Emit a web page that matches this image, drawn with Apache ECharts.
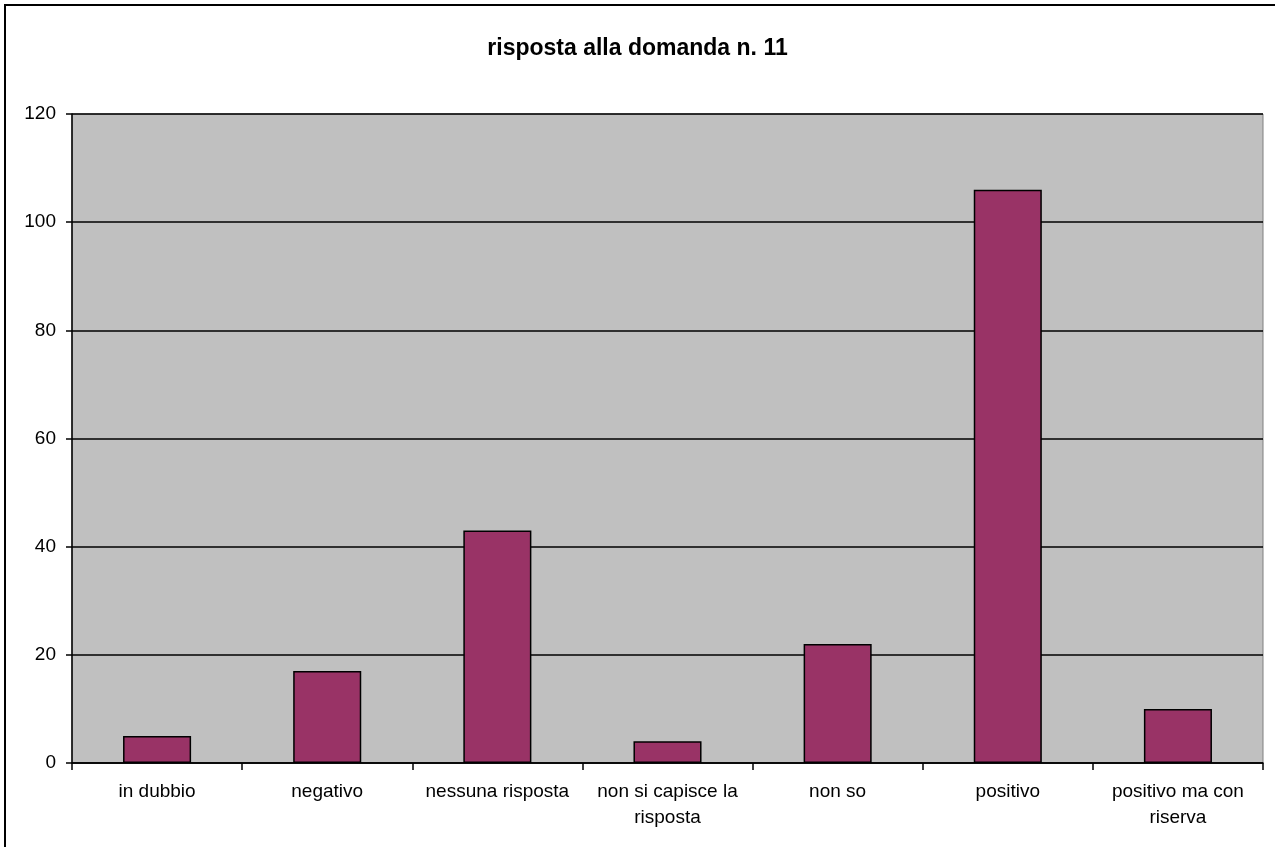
<!DOCTYPE html>
<html><head><meta charset="utf-8">
<script src="https://cdn.jsdelivr.net/npm/echarts@6/dist/echarts.min.js"></script>
<style>html,body{margin:0;padding:0;background:#fff}#c{width:1275px;height:847px}</style>
</head><body><div id="c"></div>
<script>
const categories = ['in dubbio','negativo','nessuna risposta','non si capisce la\nrisposta','non so','positivo','positivo ma con\nriserva'];
const values = [5,17,43,4,22,106,10];
const yTicks = [0,20,40,60,80,100,120];

const chart = echarts.init(document.getElementById('c'));
chart.setOption({
  animation:false,
  backgroundColor:'#fff',
  graphic:[{type:'rect',shape:{x:5,y:5,width:1300,height:900},style:{fill:'none',stroke:'#000',lineWidth:2},z:100}],
  title:{text:'risposta alla domanda n. 11',left:'center',top:32,textStyle:{fontFamily:'Liberation Sans, Arial',fontSize:23,fontWeight:'bold',color:'#000'}},
  grid:{left:72,right:12,top:114,bottom:84,show:true,backgroundColor:'#c0c0c0',borderColor:'#808080',borderWidth:1},
  xAxis:{type:'category',data:categories,
    axisLine:{lineStyle:{color:'#000',width:1.5}},
    axisTick:{show:true,length:7,alignWithLabel:false,lineStyle:{color:'#000',width:1.5}},
    axisLabel:{interval:0,color:'#000',fontFamily:'Liberation Sans, Arial',fontSize:19,lineHeight:26,margin:16}},
  yAxis:{type:'value',min:0,max:120,interval:20,
    axisLine:{show:true,lineStyle:{color:'#000',width:1.5}},
    axisTick:{show:true,length:6,lineStyle:{color:'#000',width:1.5}},
    splitLine:{show:true,lineStyle:{color:'#000',width:1.5}},
    axisLabel:{color:'#000',fontFamily:'Liberation Sans, Arial',fontSize:19,margin:16,
      formatter:v=>yTicks.includes(v)?String(v):''}},
  series:[{type:'bar',data:values,barCategoryGap:'60%',
    itemStyle:{color:'#993366',borderColor:'#000',borderWidth:1.5}}]
});
</script></body></html>
